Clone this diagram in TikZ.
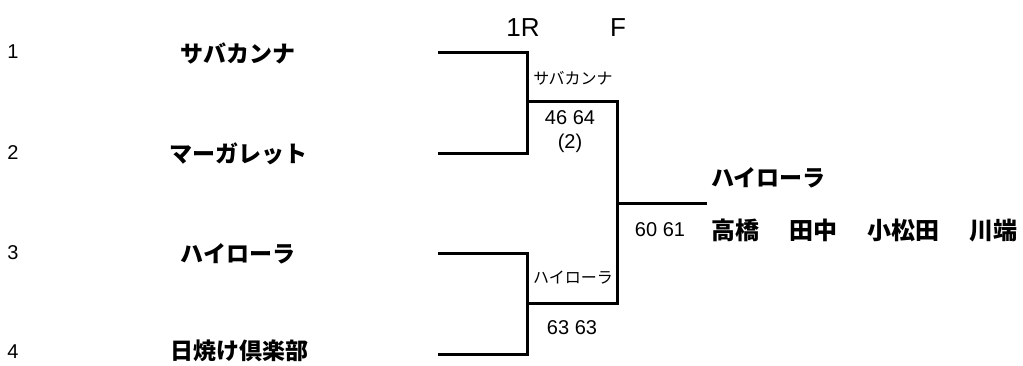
\documentclass[tikz,border=0pt]{standalone}
\usepackage{fontspec}
\setmainfont{Noto Sans CJK JP}
\newfontfamily\lat{Liberation Sans}
\begin{document}
\begin{tikzpicture}[x=1pt,y=-1pt,
  line/.style={line width=3pt},
  num/.style={font=\fontsize{20}{22}\selectfont\lat},
  team/.style={font=\fontsize{23}{26}\selectfont\bfseries},
  small/.style={font=\fontsize{16}{18}\selectfont},
  score/.style={font=\fontsize{20}{22}\selectfont\lat},
  head/.style={font=\fontsize{26}{28}\selectfont\lat}]
\useasboundingbox (0,0) rectangle (1023,365);
% seeds
\node[num] (s1) at (13,52) {1};
\node[num] (s2) at (13,153) {2};
\node[num] (s3) at (13,253) {3};
\node[num] (s4) at (13,352) {4};
% teams
\node[team] (t1) at (238,53) {サバカンナ};
\node[team] (t2) at (238,154) {マーガレット};
\node[team] (t3) at (238,254) {ハイローラ};
\node[team] (t4) at (239,351) {日焼け倶楽部};
% headers
\node[head] (h1) at (523,28) {1R};
\node[head] (h2) at (618,28) {F};
% bracket coordinates
\coordinate (a1) at (438,52.5);
\coordinate (b1) at (527.5,52.5);
\coordinate (a2) at (438,153);
\coordinate (b2) at (527.5,153);
\coordinate (m1) at (527.5,101.5);
\coordinate (f1) at (617,101.5);
\coordinate (a3) at (438,253);
\coordinate (b3) at (527.5,253);
\coordinate (a4) at (438,354);
\coordinate (b4) at (527.5,354);
\coordinate (m2) at (527.5,303);
\coordinate (f2) at (617,303);
\coordinate (w0) at (617,203);
\coordinate (w1) at (707,203);
\draw[line] (a1) -- (b1) -- (b2) -- (a2);
\draw[line] (m1) -- (f1) -- (f2) -- (m2);
\draw[line] (a3) -- (b3) -- (b4) -- (a4);
\draw[line] (w0) -- (w1);
% results
\node[small] (r1) at (573,78) {サバカンナ};
\node[score] (sc1) at (570,118) {46 64};
\node[score] (sc1b) at (570,143) {(2)};
\node[small] (r2) at (573,278) {ハイローラ};
\node[score] (sc2) at (572,328) {63 63};
\node[score] (sc3) at (660,230) {60 61};
\node[team, anchor=west, inner sep=0pt] (win) at (711,178) {ハイローラ};
\node[team, anchor=west, inner sep=0pt, font=\fontsize{24}{26}\selectfont\bfseries] (mem) at (711,230) {高橋\hspace{30pt}田中\hspace{30pt}小松田\hspace{30pt}川端};
\end{tikzpicture}
\end{document}
